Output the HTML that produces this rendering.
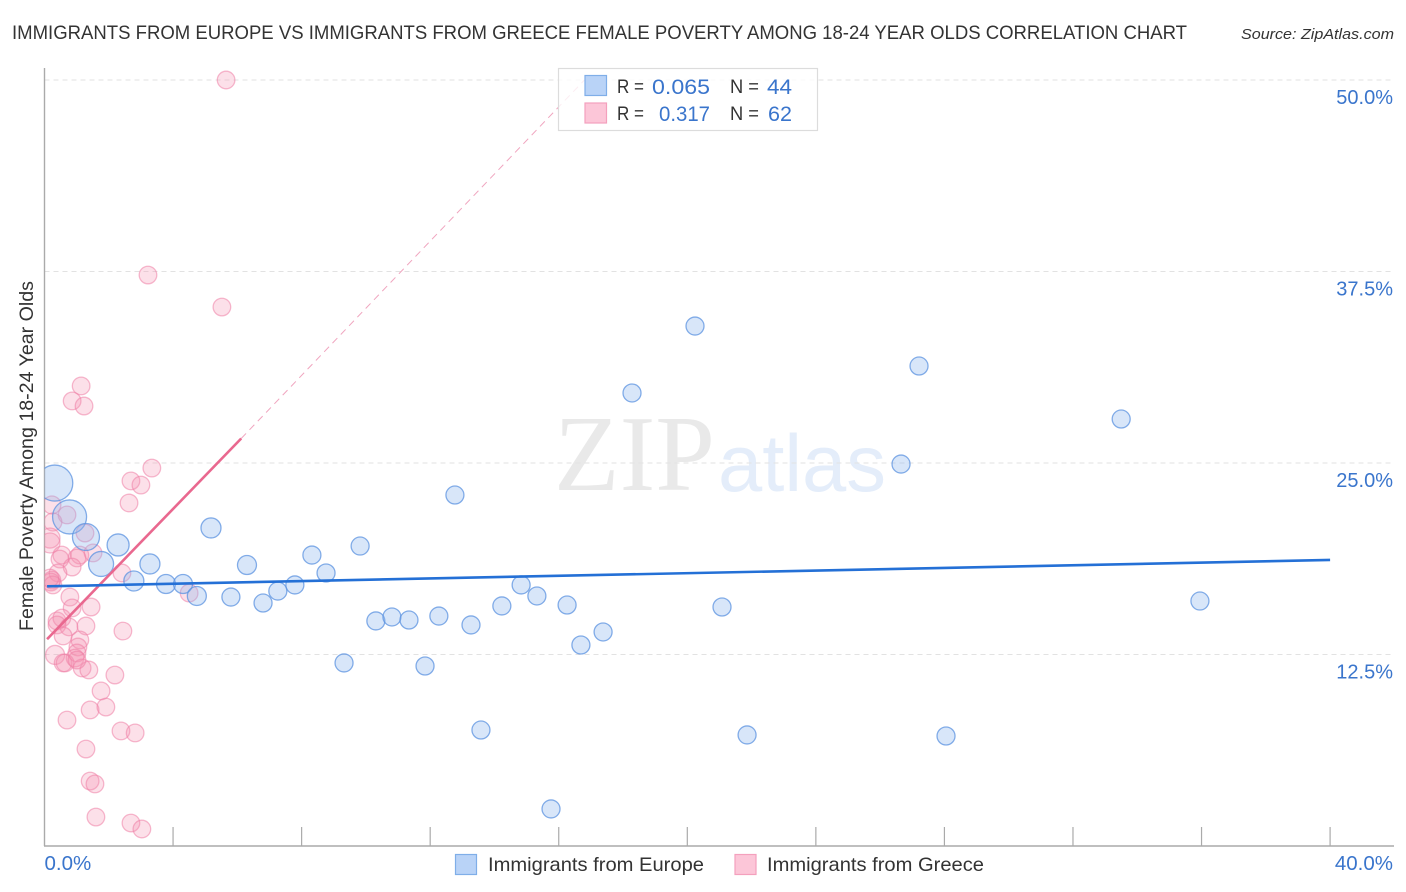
<!DOCTYPE html>
<html lang="en">
<head>
<meta charset="utf-8">
<title>Immigrants from Europe vs Immigrants from Greece Correlation Chart</title>
<style>
html,body{margin:0;padding:0;background:#fff;width:1406px;height:892px;overflow:hidden}
svg{display:block;font-family:"Liberation Sans",sans-serif}
</style>
</head>
<body>
<svg id="chart" width="1406" height="892" viewBox="0 0 1406 892" xmlns="http://www.w3.org/2000/svg">
  <defs><clipPath id="plot-clip"><rect x="44.5" y="60" width="1350" height="786"/></clipPath></defs>
  <rect x="0" y="0" width="1406" height="892" fill="#ffffff"/>
  <text x="12" y="39" font-size="19.5" fill="#333" textLength="1175" lengthAdjust="spacingAndGlyphs">IMMIGRANTS FROM EUROPE VS IMMIGRANTS FROM GREECE FEMALE POVERTY AMONG 18-24 YEAR OLDS CORRELATION CHART</text>
  <text x="1241" y="39" font-size="15" font-style="italic" fill="#333" textLength="153" lengthAdjust="spacingAndGlyphs">Source: ZipAtlas.com</text>
  <g id="watermark">
    <text x="554" y="490" font-size="108" font-family="'Liberation Serif',serif" fill="#e9e9e9" textLength="161" lengthAdjust="spacingAndGlyphs">ZIP</text>
    <text x="718" y="491" font-size="81" fill="#e4edfa" textLength="168" lengthAdjust="spacingAndGlyphs">atlas</text>
  </g>
  <g id="grid"></g>
  <g id="axes"></g>
  <g id="pink-points" clip-path="url(#plot-clip)"></g>
  <g id="blue-points" clip-path="url(#plot-clip)"></g>
  <g id="trends"></g>
  <g id="ticklabels"></g>
  <text transform="translate(33,631) rotate(-90)" font-size="19" fill="#333" textLength="350" lengthAdjust="spacingAndGlyphs">Female Poverty Among 18-24 Year Olds</text>

  <g>
    <rect x="558.5" y="68.5" width="259" height="62" fill="#fff" fill-opacity="0.8" stroke="#dcdcdc" stroke-width="1.2"/>
    <rect x="585" y="75.5" width="21.5" height="20" fill="#b9d3f7" stroke="#7faee8" stroke-width="1.2"/>
    <rect x="585" y="103" width="21.5" height="20" fill="#fcc6d8" stroke="#f4a0bd" stroke-width="1.2"/>
    <text x="617" y="93" font-size="19" fill="#333" textLength="27" lengthAdjust="spacingAndGlyphs">R =</text>
    <text x="652" y="94" font-size="21" fill="#3a75cc" textLength="58" lengthAdjust="spacingAndGlyphs">0.065</text>
    <text x="730" y="93" font-size="19" fill="#333" textLength="29" lengthAdjust="spacingAndGlyphs">N =</text>
    <text x="767" y="94" font-size="21" fill="#3a75cc" textLength="25" lengthAdjust="spacingAndGlyphs">44</text>
    <text x="617" y="120" font-size="19" fill="#333" textLength="27" lengthAdjust="spacingAndGlyphs">R =</text>
    <text x="659" y="121" font-size="21" fill="#3a75cc" textLength="51" lengthAdjust="spacingAndGlyphs">0.317</text>
    <text x="730" y="120" font-size="19" fill="#333" textLength="29" lengthAdjust="spacingAndGlyphs">N =</text>
    <text x="768" y="121" font-size="21" fill="#3a75cc" textLength="24" lengthAdjust="spacingAndGlyphs">62</text>
  </g>

  <g>
    <rect x="455.5" y="854.5" width="21" height="20" fill="#b9d3f7" stroke="#7faee8" stroke-width="1.2"/>
    <text x="488" y="871" font-size="19.5" fill="#333" textLength="216" lengthAdjust="spacingAndGlyphs">Immigrants from Europe</text>
    <rect x="735" y="854.5" width="21" height="20" fill="#fcc6d8" stroke="#f4a0bd" stroke-width="1.2"/>
    <text x="767" y="871" font-size="19.5" fill="#333" textLength="217" lengthAdjust="spacingAndGlyphs">Immigrants from Greece</text>
  </g>
</svg>
<script>
// ---- data (x = % immigrants, y = % female poverty, s = marker radius in px) ----
const europeX = [0.32,0.78,1.29,2.29,1.76,2.78,3.28,3.78,4.31,4.74,5.80,5.18,6.30,6.80,7.26,7.79,8.32,8.76,9.32,9.82,10.31,10.81,11.34,11.84,12.27,12.77,13.27,13.58,14.23,14.83,15.32,15.76,16.26,16.69,17.38,18.28,20.24,21.08,21.86,26.65,27.21,28.05,33.50,35.95];
const europeY = [23.69,21.48,20.17,19.65,18.41,17.30,18.41,17.10,17.10,16.32,16.25,20.76,18.34,15.86,16.64,17.04,18.99,17.82,11.95,19.58,14.69,14.95,14.75,11.75,15.01,22.91,14.43,7.57,15.67,17.04,16.32,2.42,15.73,13.12,13.97,29.57,33.94,15.60,7.25,24.93,31.33,7.18,27.87,15.99];
const europeS = [18,17,13.5,11,12.5,10,10,9.5,9.5,9.5,9,10,9.5,9,9,9,9,9,9,9,9,9,9,9,9,9,9,9,9,9,9,9,9,9,9,9,9,9,9,9,9,9,9,9];

const greeceX = [5.65,3.22,5.52,1.14,0.86,1.23,3.34,2.69,3.00,2.63,0.70,0.23,0.26,0.17,0.17,1.26,1.10,1.51,1.01,0.54,0.48,0.86,0.42,0.23,0.20,0.26,2.41,4.50,0.79,0.86,1.45,0.39,0.54,0.39,0.76,1.29,0.58,2.44,1.10,1.04,0.33,1.01,0.95,0.58,0.64,1.17,1.38,2.19,1.76,1.42,1.91,0.70,2.38,2.82,1.29,1.42,1.57,1.60,2.69,3.03,0.17,1.01];
const greeceY = [50.00,37.27,35.18,30.03,29.05,28.72,24.67,23.83,23.56,22.39,21.61,22.26,21.15,20.10,19.78,20.43,18.99,19.13,18.80,18.99,18.73,18.21,17.82,17.36,17.23,17.04,17.82,16.51,16.25,15.54,15.60,14.69,14.88,14.43,14.30,14.36,13.71,14.03,13.45,12.99,12.47,12.60,12.27,11.95,11.95,11.62,11.49,11.16,10.12,8.88,9.07,8.22,7.51,7.38,6.33,4.24,4.05,1.89,1.50,1.11,17.49,12.14];
const greeceS = [8.8,8.8,8.8,8.8,8.8,8.8,8.8,8.8,8.8,8.8,8.8,9,9,10,10,8.8,8.8,8.8,8.8,8.8,8.8,8.8,8.8,8.8,8.8,8.8,8.8,8.8,8.8,8.8,8.8,8.8,8.8,8.8,8.8,8.8,8.8,8.8,8.8,8.8,9.5,8.8,8.8,8.8,8.8,8.8,8.8,8.8,8.8,8.8,8.8,8.8,8.8,8.8,8.8,8.8,8.8,8.8,8.8,8.8,8.8,8.8];

const europeTrendX = [0.08,40];
const europeTrendY = [16.95,18.67];
const greeceTrendX = [0.08,6.12];
const greeceTrendY = [13.50,26.60];
const greeceDashX = [6.12,16.8];
const greeceDashY = [26.60,50.00];

const yTicks = [12.5,25,37.5,50];
const yTickLabels = ['12.5%','25.0%','37.5%','50.0%'];
const xTicks = [4,8,12,16,20,24,28,32,36,40];
const xEndTicks = [0,40];
const xEndLabels = ['0.0%','40.0%'];

// ---- axis functions ----
const xScale = v => 44.5 + v * 32.14;
const yScale = v => 846 - v * 15.32;

const NS = 'http://www.w3.org/2000/svg';
function mk(parent, tag, attrs){
  const el = document.createElementNS(NS, tag);
  for (const k in attrs) el.setAttribute(k, attrs[k]);
  parent.appendChild(el);
  return el;
}

const grid = document.getElementById('grid');
const axes = document.getElementById('axes');
const labels = document.getElementById('ticklabels');

yTicks.forEach(function(t, i){
  const g = mk(grid, 'line', {x1:44.5, x2:1394, y1:yScale(t), y2:yScale(t), stroke:'#e2e2e2', 'stroke-width':1, 'stroke-dasharray':'5 4'});
  
  
  const l = mk(labels, 'text', {x:1393, y:yScale(t)+24, 'text-anchor':'end', 'font-size':20, fill:'#3a75cc'});
  l.textContent = yTickLabels[i];
  
  
});

const yAxis = mk(axes, 'line', {x1:44.5, x2:44.5, y1:68, y2:846, stroke:'#aaaaaa', 'stroke-width':1.4});


const xAxis = mk(axes, 'line', {x1:44, x2:1394, y1:846, y2:846, stroke:'#aaaaaa', 'stroke-width':1.4});



xTicks.forEach(function(t){
  const k = mk(axes, 'line', {x1:xScale(t), x2:xScale(t), y1:827, y2:846, stroke:'#aaaaaa', 'stroke-width':1.2});
  
  
});

xEndTicks.forEach(function(t, i){
  const l = mk(labels, 'text', {x: i === 0 ? xScale(t) : 1393, y:870, 'text-anchor': i === 0 ? 'start' : 'end', 'font-size':20.5, fill:'#3a75cc'});
  l.textContent = xEndLabels[i];
  
  
});

const pinkG = document.getElementById('pink-points');
greeceX.forEach(function(x, i){
  const c = mk(pinkG, 'circle', {cx:xScale(x), cy:yScale(greeceY[i]), r:greeceS[i], fill:'#f48fb1', 'fill-opacity':0.28, stroke:'#ee7fa5', 'stroke-opacity':0.55, 'stroke-width':1.3});
  
  
});

const blueG = document.getElementById('blue-points');
europeX.forEach(function(x, i){
  const c = mk(blueG, 'circle', {cx:xScale(x), cy:yScale(europeY[i]), r:europeS[i], fill:'#90b8ee', 'fill-opacity':0.35, stroke:'#5c93e0', 'stroke-opacity':0.75, 'stroke-width':1.3});
  
  
});

const trends = document.getElementById('trends');
const dash = mk(trends, 'line', {x1:xScale(greeceDashX[0]), y1:yScale(greeceDashY[0]), x2:xScale(greeceDashX[1]), y2:yScale(greeceDashY[1]), stroke:'#f0a5bf', 'stroke-width':1, 'stroke-dasharray':'7 5'});


const pinkLine = mk(trends, 'line', {x1:xScale(greeceTrendX[0]), y1:yScale(greeceTrendY[0]), x2:xScale(greeceTrendX[1]), y2:yScale(greeceTrendY[1]), stroke:'#e9688f', 'stroke-width':2.6});


const blueLine = mk(trends, 'line', {x1:xScale(europeTrendX[0]), y1:yScale(europeTrendY[0]), x2:xScale(europeTrendX[1]), y2:yScale(europeTrendY[1]), stroke:'#2470d6', 'stroke-width':2.6});


</script>
</body>
</html>
